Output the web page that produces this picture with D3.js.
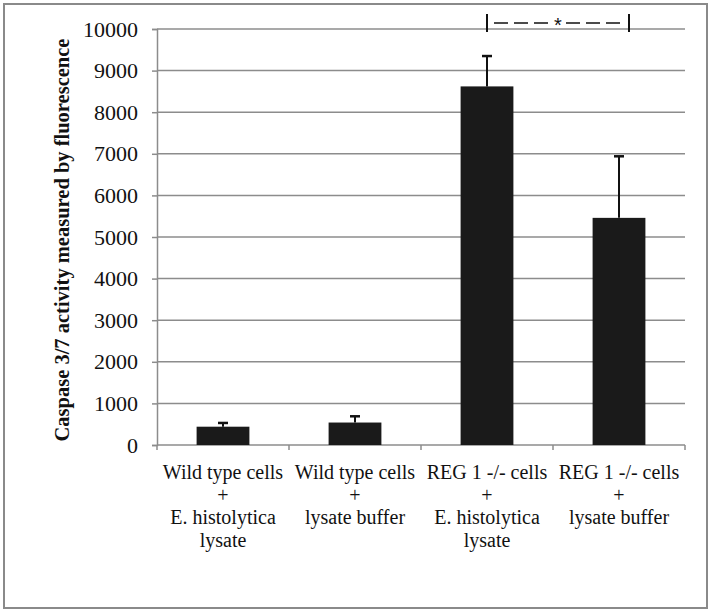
<!DOCTYPE html>
<html>
<head>
<meta charset="utf-8">
<script src="https://cdn.jsdelivr.net/npm/d3@7"></script>
<style>
  body { margin: 0; background: #fff; }
</style>
</head>
<body>
<div id="chart"></div>
<script>
// chart data
const categories = [
  ["Wild type cells", "+", "E. histolytica", "lysate"],
  ["Wild type cells", "+", "lysate buffer"],
  ["REG 1 -/- cells", "+", "E. histolytica", "lysate"],
  ["REG 1 -/- cells", "+", "lysate buffer"]
];
const means = [440, 540, 8620, 5460];
const errors = [90, 150, 730, 1480];
const yTicks = [0, 1000, 2000, 3000, 4000, 5000, 6000, 7000, 8000, 9000, 10000];
const yLabel = "Caspase 3/7 activity measured by fluorescence";

const serif = "'Liberation Serif', 'Times New Roman', serif";
const W = 711, H = 614;
const margin = {top: 29, right: 26, bottom: 169, left: 157};
const width = W - margin.left - margin.right,
      height = H - margin.top - margin.bottom;

const svg = d3.select("#chart").append("svg")
    .attr("width", W).attr("height", H);

// outer frame
svg.append("rect")
    .attr("x", 4).attr("y", 4).attr("width", W - 8).attr("height", H - 10)
    .attr("fill", "none").attr("stroke", "#8a8a8a").attr("stroke-width", 2);

const g = svg.append("g")
    .attr("transform", "translate(" + margin.left + "," + margin.top + ")");

const x = d3.scaleBand()
    .domain(d3.range(categories.length))
    .range([0, width])
    .paddingInner(0.6).paddingOuter(0.3);

const y = d3.scaleLinear().domain([0, 10000]).range([height, 0]);

// gridlines
g.selectAll("line.grid").data(yTicks.filter(d => d > 0)).enter()
    .append("line").attr("class", "grid")
    .attr("x1", 0).attr("x2", width)
    .attr("y1", d => y(d)).attr("y2", d => y(d))
    .attr("stroke", "#8c8c8c").attr("stroke-width", 1.5);

// y axis
const yAxis = g.append("g")
    .call(d3.axisLeft(y).tickValues(yTicks).tickSize(5).tickPadding(14).tickFormat(d3.format("d")));
yAxis.select(".domain").attr("stroke", "#8c8c8c").attr("stroke-width", 1.5);
yAxis.selectAll(".tick line").attr("stroke", "#8c8c8c").attr("stroke-width", 1.5);
yAxis.selectAll(".tick text")
    .style("font-family", serif).style("font-size", "22px").style("fill", "#111");

// x axis line with boundary ticks
const step = width / categories.length;
g.append("line")
    .attr("x1", 0).attr("x2", width).attr("y1", height).attr("y2", height)
    .attr("stroke", "#8c8c8c").attr("stroke-width", 1.5);
g.selectAll("line.xtick").data(d3.range(categories.length + 1)).enter()
    .append("line").attr("class", "xtick")
    .attr("x1", d => d * step).attr("x2", d => d * step)
    .attr("y1", height).attr("y2", height + 5)
    .attr("stroke", "#8c8c8c").attr("stroke-width", 1.5);

// category labels
const labels = g.selectAll("text.cat").data(categories).enter()
    .append("text").attr("class", "cat")
    .attr("text-anchor", "middle")
    .style("font-family", serif).style("font-size", "20px").style("fill", "#111")
    .attr("transform", (d, i) => "translate(" + (x(i) + x.bandwidth() / 2) + "," + (height + 34) + ")");
labels.selectAll("tspan").data(d => d).enter()
    .append("tspan")
    .attr("x", 0)
    .attr("dy", (d, i) => i === 0 ? 0 : 22.5)
    .text(d => d);

// bars
g.selectAll("rect.bar").data(means).enter()
    .append("rect").attr("class", "bar")
    .attr("x", (d, i) => x(i))
    .attr("width", x.bandwidth())
    .attr("y", d => y(d))
    .attr("height", d => height - y(d))
    .attr("fill", "#1a1a1a");

// error bars (upper only)
const eb = g.selectAll("g.err").data(means).enter().append("g").attr("class", "err");
eb.append("line")
    .attr("x1", (d, i) => x(i) + x.bandwidth() / 2)
    .attr("x2", (d, i) => x(i) + x.bandwidth() / 2)
    .attr("y1", d => y(d))
    .attr("y2", (d, i) => y(d + errors[i]))
    .attr("stroke", "#111").attr("stroke-width", 2);
eb.append("line")
    .attr("x1", (d, i) => x(i) + x.bandwidth() / 2 - 5)
    .attr("x2", (d, i) => x(i) + x.bandwidth() / 2 + 5)
    .attr("y1", (d, i) => y(d + errors[i]))
    .attr("y2", (d, i) => y(d + errors[i]))
    .attr("stroke", "#111").attr("stroke-width", 2.5);

// significance bracket between groups 3 and 4
const bx1 = x(2) + x.bandwidth() / 2,
      bx2 = x(3) + x.bandwidth() / 2 + 10,
      by = y(10000) - 6;
const br = g.append("g");
[bx1, bx2].forEach(bx => {
  br.append("line")
      .attr("x1", bx).attr("x2", bx).attr("y1", by - 9).attr("y2", by + 9)
      .attr("stroke", "#111").attr("stroke-width", 2);
});
const mid = (bx1 + bx2) / 2;
br.append("line")
    .attr("x1", bx1 + 7).attr("x2", mid - 8).attr("y1", by).attr("y2", by)
    .attr("stroke", "#111").attr("stroke-width", 1.5).attr("stroke-dasharray", "14,6");
br.append("line")
    .attr("x1", mid + 8).attr("x2", bx2 - 7).attr("y1", by).attr("y2", by)
    .attr("stroke", "#111").attr("stroke-width", 1.5).attr("stroke-dasharray", "14,6");
br.append("text")
    .attr("x", mid).attr("y", by + 9)
    .attr("text-anchor", "middle")
    .style("font-family", "'Liberation Sans', Arial, sans-serif").style("font-size", "20px")
    .style("fill", "#111")
    .text("*");

// y label
svg.append("text")
    .attr("transform", "translate(69,240) rotate(-90)")
    .attr("text-anchor", "middle")
    .style("font-family", serif).style("font-size", "20.5px").style("font-weight", "bold")
    .style("fill", "#111")
    .text(yLabel);
</script>
</body>
</html>
